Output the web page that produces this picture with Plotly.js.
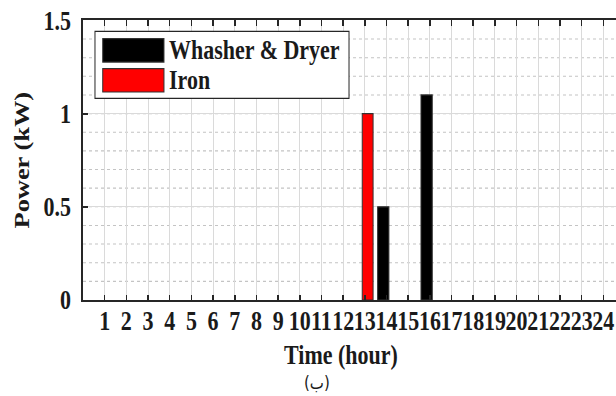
<!DOCTYPE html>
<html>
<head>
<meta charset="utf-8">
<script src="https://cdn.plot.ly/plotly-3.0.1.min.js"></script>
<style>
html,body{margin:0;padding:0;overflow:hidden;background:#fff;width:616px;height:396px;}
#chart{width:640px;height:330px;transform:scaleY(1.2);transform-origin:0 0;}
</style>
</head>
<body>
<div id="chart"></div>
<script>
// Data
const hours = [1,2,3,4,5,6,7,8,9,10,11,12,13,14,15,16,17,18,19,20,21,22,23,24];
const washerDryer = [0,0,0,0,0,0,0,0,0,0,0,0,0,0.5,0,1.1,0,0,0,0,0,0,0,0];
const iron =        [0,0,0,0,0,0,0,0,0,0,0,0,1,0,0,0,0,0,0,0,0,0,0,0];
const seriesNames = ['Whasher & Dryer', 'Iron'];
const yTicks = [0, 0.5, 1, 1.5];
const yTickLabels = ['0', '0.5', '1', '1.5'];
const xTitle = 'Time (hour)';
const yTitle = 'Power (kW)';
const caption = '(ب)';

const FONT = 'Liberation Serif, Times New Roman, serif';
const TXT = '#1a1a1a';
const AX = '#262626';

const edgeWidths = arr => arr.map(v => v > 0 ? 1 : 0);

const traces = [
  {type:'bar', x:hours, y:washerDryer, name:seriesNames[0], width:0.52, offset:-0.41,
   marker:{color:'#000000', line:{color:'#333333', width:edgeWidths(washerDryer)}}, showlegend:false},
  {type:'bar', x:hours, y:iron, name:seriesNames[1], width:0.5, offset:-0.12,
   marker:{color:'#ff0000', line:{color:'#333333', width:edgeWidths(iron)}}, showlegend:false}
];

// custom legend (paper coords)
const shapes = [
  {type:'rect', xref:'paper', yref:'paper', x0:0.0221, x1:0.4908, y0:0.7214, y1:0.9607,
   fillcolor:'#ffffff', line:{color:AX, width:1}},
  {type:'rect', xref:'paper', yref:'paper', x0:0.0364, x1:0.1494, y0:0.8511, y1:0.9346,
   fillcolor:'#000000', line:{color:'#333333', width:1}},
  {type:'rect', xref:'paper', yref:'paper', x0:0.0364, x1:0.1494, y0:0.7439, y1:0.8275,
   fillcolor:'#ff0000', line:{color:'#333333', width:1}}
];
const annotations = [
  {xref:'paper', yref:'paper', x:0.1548, y:0.893, xanchor:'left', yanchor:'middle',
   text:'<b>'+seriesNames[0].replace('&','&amp;')+'</b>', showarrow:false, font:{family:FONT, size:22, color:TXT}},
  {xref:'paper', yref:'paper', x:0.1548, y:0.7857, xanchor:'left', yanchor:'middle',
   text:'<b>'+seriesNames[1]+'</b>', showarrow:false, font:{family:FONT, size:22, color:TXT}},
  {xref:'paper', yref:'paper', x:0.476, y:-0.195, xanchor:'center', yanchor:'middle',
   text:'<b>'+xTitle+'</b>', showarrow:false, font:{family:FONT, size:22, color:TXT}},
  {xref:'paper', yref:'paper', x:0.431, y:-0.298, xanchor:'center', yanchor:'middle',
   text:caption, showarrow:false, font:{family:'DejaVu Sans, Noto Sans', size:15, color:TXT}}
];

const layout = {
  width:640, height:330,
  margin:{l:83, r:15, t:16.67, b:80},
  paper_bgcolor:'#ffffff', plot_bgcolor:'#ffffff',
  barmode:'overlay',
  font:{family:FONT, size:22, color:TXT},
  xaxis:{
    range:[0,25], tickvals:hours, ticktext:hours.map(h=>'<b>'+h+'</b>'),
    ticks:'inside', ticklen:4.5, tickwidth:1.5, tickcolor:AX,
    showline:true, linewidth:2, linecolor:AX, mirror:'ticks',
    showgrid:true, gridcolor:'#dadada', gridwidth:1, zeroline:false,
    tickfont:{family:FONT, size:22, color:TXT}, tickangle:0,
    ticklabelstandoff:-3
  },
  yaxis:{
    range:[0,1.5], tickvals:yTicks, ticktext:yTickLabels.map(s=>'<b>'+s+'</b>'),
    ticks:'inside', ticklen:5, tickwidth:1.5, tickcolor:AX,
    showline:true, linewidth:1.7, linecolor:AX, mirror:'ticks',
    showgrid:true, gridcolor:'#dadada', gridwidth:1, zeroline:false,
    tickfont:{family:FONT, size:22, color:TXT},
    ticklabelstandoff:6,
    minor:{dtick:0.1, showgrid:true, gridcolor:'#c4c4c4', griddash:'dot', gridwidth:0.9, ticks:''},
    title:{text:'<b>'+yTitle+'</b>', font:{family:FONT, size:22, color:TXT}, standoff:8},
    automargin:false
  },
  shapes:shapes,
  annotations:annotations
};

Plotly.newPlot('chart', traces, layout, {staticPlot:true, displayModeBar:false});
</script>
</body>
</html>
